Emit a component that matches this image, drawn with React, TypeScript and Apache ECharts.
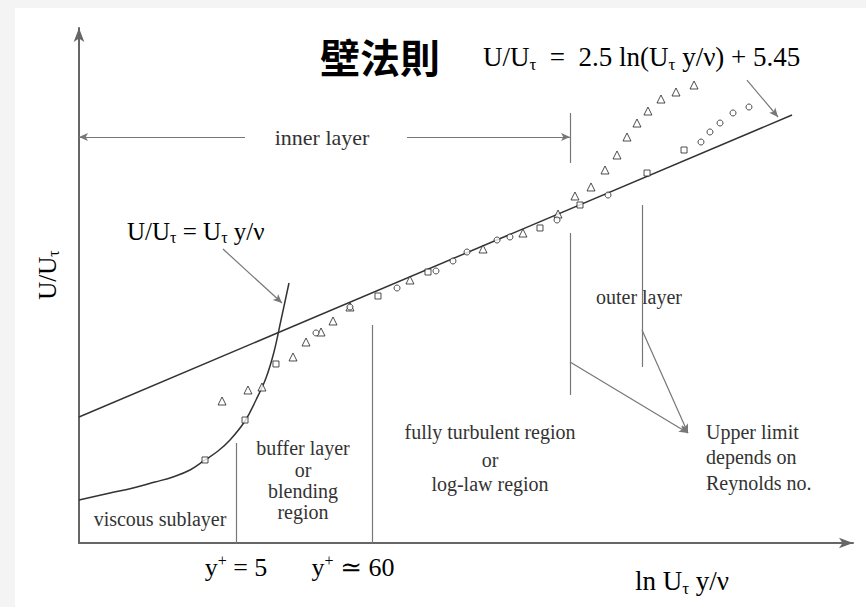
import React, { useEffect, useRef } from "react";
import * as echarts from "echarts";

// Schematic coordinates: x = ln(Uτ y/ν) position (0–100), y = U/Uτ position (0–100)
const X_MIN = 0;
const X_MAX = 100;
const Y_MIN = 0;
const Y_MAX = 100;

// Measured velocity profile points, grouped by marker shape
const squarePoints: [number, number][] = [
  [16.28, 16.12], [21.45, 23.88], [25.45, 34.76], [38.63, 47.96], [45.09, 52.62],
  [59.56, 61.17], [64.73, 65.63], [73.39, 71.84], [78.17, 76.31],
];

const trianglePoints: [number, number][] = [
  [18.48, 27.57], [21.83, 29.71], [23.64, 30.29], [27.65, 36.12], [29.33, 39.03],
  [31.27, 40.97], [32.82, 43.11], [35.01, 45.83], [42.76, 51.07], [52.2, 57.09],
  [57.36, 60.19], [61.89, 63.88], [64.08, 67.38], [66.15, 69.13], [67.96, 72.43],
  [69.51, 75.34], [70.8, 78.83], [72.09, 81.55], [73.51, 83.88], [75.19, 86.21],
  [77.13, 87.57], [79.46, 88.93],
];

const circlePoints: [number, number][] = [
  [30.62, 40.78], [35.01, 45.83], [41.09, 49.51], [46.12, 52.82], [48.32, 54.76],
  [50.13, 56.5], [54.01, 58.83], [55.68, 59.42], [61.76, 62.72], [68.35, 67.57],
  [80.36, 77.86], [81.52, 79.81], [82.82, 81.55], [84.5, 83.5], [86.56, 84.66],
];

// Log-law: U/Uτ = 2.5 ln(Uτ y/ν) + 5.45 (straight line on the log axis)
const logLawLine: [number, number][] = [
  [0, 24.47],
  [92.12, 83.11],
];

// Viscous sublayer: U/Uτ = Uτ y/ν (curves upward on the log axis)
const viscousCurve: [number, number][] = [
  [0, 8.35], [4.01, 9.71], [6.98, 10.68], [9.82, 11.84], [12.14, 12.82],
  [14.34, 14.17], [16.28, 16.12], [17.96, 17.86], [19.51, 20.0], [21.45, 23.69],
  [22.87, 27.77], [24.16, 32.04], [25.19, 37.09], [26.1, 43.3], [27.13, 50.49],
];

// Region boundaries (plain segments)
const boundarySegments: [number, number, number, number][] = [
  [20.28, 19.42, 20.28, 0], // y+ = 5
  [37.86, 42.33, 37.86, 0], // y+ ≈ 60
  [63.44, 83.5, 63.44, 73.79], // end of inner layer (upper tick)
  [63.44, 60.19, 63.44, 28.74], // end of inner layer (lower part)
  [72.74, 65.63, 72.74, 34.17], // outer layer marker
];

// Arrowed segments: start → end (arrow at end)
const arrowSegments: [number, number, number, number][] = [
  [21.45, 78.83, 0, 78.83], // inner layer ←
  [42.38, 78.83, 63.44, 78.83], // inner layer →
  [63.44, 35.15, 78.68, 21.36], // to "Upper limit"
  [72.74, 41.36, 78.68, 21.36], // to "Upper limit"
  [18.6, 57.09, 26.23, 46.6], // viscous formula leader
  [86.3, 89.9, 90.31, 82.72], // log-law formula leader
];

const SERIF = "'Liberation Serif', 'DejaVu Serif', serif";
const TEXT_COLOR = "#333";
const LINE_COLOR = "#777";

const richStyles = (size: number) => ({
  n: { fontFamily: SERIF, fontSize: size, color: TEXT_COLOR, lineHeight: size + 4 },
  s: {
    fontFamily: SERIF,
    fontSize: Math.round(size * 0.62),
    color: TEXT_COLOR,
    lineHeight: Math.round(size * 0.62),
    verticalAlign: "bottom",
  },
  p: {
    fontFamily: SERIF,
    fontSize: Math.round(size * 0.62),
    color: TEXT_COLOR,
    lineHeight: Math.round(size * 0.62),
    verticalAlign: "top",
  },
});

const plainText = (text: string, x: number, y: number, size: number, align = "center") => ({
  type: "text",
  x,
  y,
  silent: true,
  style: {
    text,
    fontFamily: SERIF,
    fontSize: size,
    fill: TEXT_COLOR,
    align,
    verticalAlign: "middle",
  },
});

const richText = (text: string, x: number, y: number, size: number, align = "left", rotation = 0) => ({
  type: "text",
  x,
  y,
  rotation,
  silent: true,
  style: {
    text,
    rich: richStyles(size),
    align,
    verticalAlign: "middle",
  },
});

const markerStyle = { color: "#fff", borderColor: "#222", borderWidth: 1 };

export default function App() {
  const ref = useRef<HTMLDivElement>(null);

  useEffect(() => {
    if (!ref.current) return;
    const chart = echarts.init(ref.current, null, { renderer: "svg" });

    const markLineData = [
      ...boundarySegments.map(([x1, y1, x2, y2]) => [
        { coord: [x1, y1], symbol: "none" },
        { coord: [x2, y2], symbol: "none" },
      ]),
      ...arrowSegments.map(([x1, y1, x2, y2]) => [
        { coord: [x1, y1], symbol: "none" },
        { coord: [x2, y2], symbol: "arrow", symbolSize: [6, 9] },
      ]),
    ];

    chart.setOption({
      animation: false,
      backgroundColor: "transparent",
      grid: { left: 79, right: 13, top: 28, bottom: 64 },
      xAxis: {
        type: "value",
        min: X_MIN,
        max: X_MAX,
        axisLine: {
          show: true,
          symbol: ["none", "arrow"],
          symbolSize: [8, 14],
          lineStyle: { color: "#666", width: 2 },
        },
        axisTick: { show: false },
        axisLabel: { show: false },
        splitLine: { show: false },
      },
      yAxis: {
        type: "value",
        min: Y_MIN,
        max: Y_MAX,
        axisLine: {
          show: true,
          symbol: ["none", "arrow"],
          symbolSize: [8, 14],
          lineStyle: { color: "#666", width: 2 },
        },
        axisTick: { show: false },
        axisLabel: { show: false },
        splitLine: { show: false },
      },
      series: [
        {
          name: "log-law",
          type: "line",
          data: logLawLine,
          symbol: "none",
          lineStyle: { color: "#333", width: 1.5 },
          silent: true,
          z: 3,
          markLine: {
            silent: true,
            label: { show: false },
            lineStyle: { color: LINE_COLOR, width: 1.2, type: "solid" },
            emphasis: { disabled: true },
            data: markLineData,
          },
        },
        {
          name: "viscous sublayer",
          type: "line",
          data: viscousCurve,
          smooth: 0.4,
          symbol: "none",
          lineStyle: { color: "#333", width: 1.5 },
          silent: true,
          z: 3,
        },
        {
          name: "squares",
          type: "scatter",
          data: squarePoints,
          symbol: "rect",
          symbolSize: 6,
          itemStyle: markerStyle,
          silent: true,
          z: 4,
        },
        {
          name: "triangles",
          type: "scatter",
          data: trianglePoints,
          symbol: "triangle",
          symbolSize: 8,
          itemStyle: markerStyle,
          silent: true,
          z: 4,
        },
        {
          name: "circles",
          type: "scatter",
          data: circlePoints,
          symbol: "circle",
          symbolSize: 6,
          itemStyle: markerStyle,
          silent: true,
          z: 4,
        },
      ],
      graphic: [
        {
          type: "text",
          x: 380,
          y: 56,
          silent: true,
          style: {
            text: "壁法則",
            fontFamily: "'Noto Sans CJK TC', 'Noto Sans CJK SC', sans-serif",
            fontSize: 40,
            fontWeight: "bold",
            fill: "#000",
            align: "center",
            verticalAlign: "middle",
          },
        },
        richText("{n|U/U}{s|τ}{n|  =  2.5 ln(U}{s|τ}{n| y/ν) + 5.45}", 483, 57, 27),
        richText("{n|U/U}{s|τ}{n| = U}{s|τ}{n| y/ν}", 127, 231, 25),
        richText("{n|U/U}{s|τ}", 47, 275, 25, "center", Math.PI / 2),
        richText("{n|ln U}{s|τ}{n| y/ν}", 635, 581, 27),
        richText("{n|y}{p|+}{n| = 5}", 236, 567, 26, "center"),
        richText("{n|y}{p|+}{n| ≃ 60}", 353, 567, 26, "center"),
        {
          type: "rect",
          silent: true,
          shape: { x: 258, y: 126, width: 136, height: 22 },
          style: { fill: "#fff" },
        },
        plainText("inner layer", 322, 137, 22),
        plainText("outer layer", 639, 297, 20),
        plainText("fully turbulent region", 490, 432, 20),
        plainText("or", 490, 460, 20),
        plainText("log-law region", 490, 484, 20),
        plainText("buffer layer", 303, 448, 20),
        plainText("or", 303, 470, 20),
        plainText("blending", 303, 491, 20),
        plainText("region", 303, 512, 20),
        plainText("viscous sublayer", 160, 519, 20),
        plainText("Upper limit", 706, 432, 20, "left"),
        plainText("depends on", 706, 457, 20, "left"),
        plainText("Reynolds no.", 706, 483, 20, "left"),
      ],
    });

    return () => chart.dispose();
  }, []);

  return (
    <div
      style={{
        position: "fixed",
        left: 0,
        top: 0,
        width: 866,
        height: 607,
        background: "#f4f4f4",
      }}
    >
      <div
        style={{
          position: "absolute",
          left: 15,
          top: 8,
          right: 0,
          bottom: 0,
          background: "#fff",
        }}
      />
      <div ref={ref} style={{ position: "absolute", left: 0, top: 0, width: 866, height: 607 }} />
    </div>
  );
}
